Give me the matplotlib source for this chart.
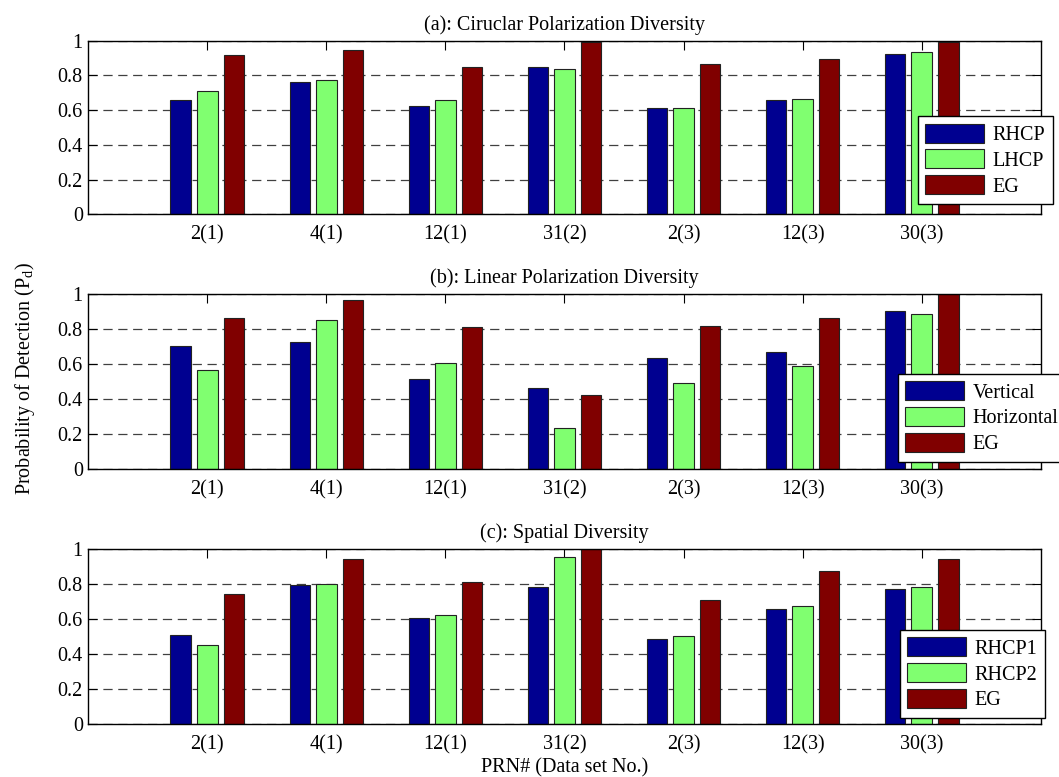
import numpy as np
import matplotlib.pyplot as plt

plt.rcParams['font.family'] = 'Liberation Serif'
plt.rcParams['font.size'] = 14.5

prn = ['2(1)', '4(1)', '12(1)', '31(2)', '2(3)', '12(3)', '30(3)']

# (a) circular polarization
rhcp = [0.658, 0.760, 0.624, 0.846, 0.614, 0.658, 0.923]
lhcp = [0.710, 0.772, 0.658, 0.837, 0.614, 0.666, 0.933]
eg_a = [0.916, 0.948, 0.846, 0.990, 0.864, 0.896, 0.990]

# (b) linear polarization
vert = [0.705, 0.728, 0.514, 0.463, 0.634, 0.669, 0.903]
horz = [0.566, 0.851, 0.608, 0.234, 0.491, 0.592, 0.888]
eg_b = [0.865, 0.966, 0.813, 0.423, 0.821, 0.865, 1.000]

# (c) spatial
rhcp1 = [0.511, 0.798, 0.605, 0.784, 0.489, 0.656, 0.775]
rhcp2 = [0.450, 0.800, 0.622, 0.954, 0.502, 0.674, 0.782]
eg_c = [0.742, 0.945, 0.811, 1.000, 0.708, 0.876, 0.943]

colors = ['#000090', '#80FF70', '#800000']

panels = [
    ('(a): Ciruclar Polarization Diversity', [rhcp, lhcp, eg_a], ['RHCP', 'LHCP', 'EG'],
     [0.7242, 0.2234], (0.8709, 0.5645)),
    ('(b): Linear Polarization Diversity', [vert, horz, eg_b], ['Vertical', 'Horizontal', 'EG'],
     [0.3960, 0.2252], (0.8499, 0.5446)),
    ('(c): Spatial Diversity', [rhcp1, rhcp2, eg_c], ['RHCP1', 'RHCP2', 'EG'],
     [0.0682, 0.2248], (0.8523, 0.5380)),
]

fig = plt.figure(figsize=(10.59, 7.77), dpi=100)
x = np.arange(1, len(prn) + 1)
width = 0.174
step = 0.223

axes = []
for title, series, names, (bottom, height), leg_pos in panels:
    ax = fig.add_axes([0.0834, bottom, 0.8993, height])
    ax.set_axisbelow(True)
    bars = []
    for k, (vals, c) in enumerate(zip(series, colors)):
        b = ax.bar(x + (k - 1) * step, vals, width, color=c,
                   edgecolor='#222222', linewidth=0.8)
        bars.append(b)
    ax.set_xlim(0, 8)
    ax.set_ylim(0, 1)
    ax.set_xticks(x)
    ax.set_xticklabels(prn)
    ax.set_yticks([0, 0.2, 0.4, 0.6, 0.8, 1])
    ax.set_yticklabels(['0', '0.2', '0.4', '0.6', '0.8', '1'])
    ax.tick_params(direction='in', length=6.5, width=0.8, top=True, right=True)
    ax.tick_params(axis='y', pad=4)
    ax.tick_params(axis='x', pad=8)
    ax.yaxis.grid(True, linestyle=(0, (7.4, 4.5)), color='#404040', linewidth=0.9)
    for s in ax.spines.values():
        s.set_linewidth(1.0)
    ax.set_title(title, fontsize=14.5, pad=8)
    leg = ax.legend(bars, names, loc='upper left', bbox_to_anchor=leg_pos,
                    borderaxespad=0, fancybox=False, framealpha=1,
                    edgecolor='black', handlelength=2.93, handleheight=1.08,
                    handletextpad=0.43, labelspacing=0.22, borderpad=0.36,
                    fontsize=14.5)
    leg.get_frame().set_linewidth(1.0)
    axes.append(ax)

axes[1].set_ylabel('Probability of Detection (P$_\\mathregular{d}$)')
axes[1].yaxis.set_label_coords(-0.054, 0.52)
axes[2].set_xlabel('PRN# (Data set No.)', labelpad=3)

fig.savefig('out.png', dpi=100)
